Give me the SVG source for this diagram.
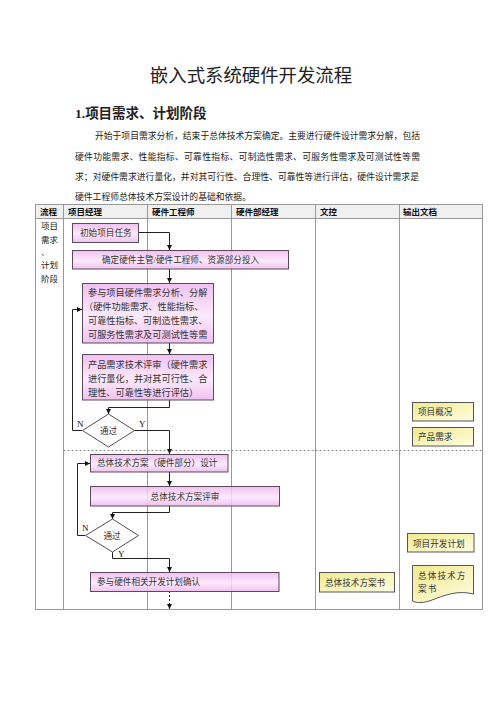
<svg xmlns="http://www.w3.org/2000/svg" width="500" height="707" viewBox="0 0 500 707">
<style>
.cn{font-family:"Liberation Serif","Noto Sans CJK SC",serif;fill:#222}
.hd{font-family:"Liberation Serif","Noto Sans CJK SC",serif;font-weight:bold;font-size:8.5px;fill:#111}
.bx{fill:url(#pink);fill-opacity:0.85;stroke:#5a4a5a;stroke-width:1}
.dc{fill:url(#yel);stroke:#555;stroke-width:1}
.dm{fill:#fff;fill-opacity:0.85;stroke:#5a4a5a;stroke-width:1}
.t{font-family:"Liberation Serif","Noto Sans CJK SC",serif;font-size:8.6px;fill:#333}
.tb{font-family:"Liberation Serif","Noto Sans CJK SC",serif;font-size:9.2px;fill:#333}
.lb{font-family:"Liberation Serif","Noto Sans CJK SC",serif;font-size:9px;fill:#111}
.ln{fill:none;stroke:#222;stroke-width:1}
.grid{stroke:#999;stroke-width:1;fill:none}
</style>
<defs>
<linearGradient id="pink" x1="0" y1="0" x2="0" y2="1">
<stop offset="0" stop-color="#eeb6ee"/>
<stop offset="0.55" stop-color="#fbe6fb"/>
<stop offset="1" stop-color="#eeb6ee"/>
</linearGradient>
<linearGradient id="yel" x1="0" y1="0" x2="1" y2="1">
<stop offset="0" stop-color="#f2e98f"/>
<stop offset="1" stop-color="#fffde2"/>
</linearGradient>
<marker id="ar" viewBox="0 0 10 10" refX="10" refY="5" markerWidth="5" markerHeight="5" markerUnits="userSpaceOnUse" orient="auto">
<path d="M0,0 L10,5 L0,10 z" fill="#111"/>
</marker>
</defs>
<rect width="500" height="707" fill="#fff"/>

<g id="heading">
<text class="cn" x="251" y="82" font-size="18.4" text-anchor="middle">嵌入式系统硬件开发流程</text>
<text class="cn" x="75" y="118" font-size="13.5" font-weight="bold">1.项目需求、计划阶段</text>
<text class="cn" x="95" y="139" font-size="8.8" textLength="325" lengthAdjust="spacing">开始于项目需求分析，结束于总体技术方案确定。主要进行硬件设计需求分解，包括</text>
<text class="cn" x="75" y="160" font-size="8.8" textLength="345" lengthAdjust="spacing">硬件功能需求、性能指标、可靠性指标、可制造性需求、可服务性需求及可测试性等需</text>
<text class="cn" x="75" y="180" font-size="8.8" textLength="344" lengthAdjust="spacing">求；对硬件需求进行量化，并对其可行性、合理性、可靠性等进行评估，硬件设计需求是</text>
<text class="cn" x="75" y="200" font-size="8.8">硬件工程师总体技术方案设计的基础和依据。</text>
</g>

<g id="table">
<rect x="35.5" y="204.5" width="447" height="14" fill="#f0f0f0"/>
<rect class="grid" x="35.5" y="204.5" width="447" height="405" stroke="#8a8a8a" stroke-width="1.3"/>
<line class="grid" x1="35.5" y1="218.5" x2="482.5" y2="218.5"/>
<line class="grid" x1="63.5" y1="204.5" x2="63.5" y2="609.5"/>
<line class="grid" x1="147.5" y1="204.5" x2="147.5" y2="609.5"/>
<line class="grid" x1="231.5" y1="204.5" x2="231.5" y2="609.5"/>
<line class="grid" x1="315.5" y1="204.5" x2="315.5" y2="609.5"/>
<line class="grid" x1="399.5" y1="204.5" x2="399.5" y2="609.5"/>
<line x1="63.5" y1="450.5" x2="482.5" y2="450.5" stroke="#888" stroke-width="1" stroke-dasharray="2,2"/>
<text class="hd" x="40" y="215">流程</text>
<text class="hd" x="68" y="215">项目经理</text>
<text class="hd" x="152" y="215">硬件工程师</text>
<text class="hd" x="236" y="215">硬件部经理</text>
<text class="hd" x="320" y="215">文控</text>
<text class="hd" x="403" y="215">输出文档</text>
<text class="cn" font-size="8.5" x="41" y="229">项目</text>
<text class="cn" font-size="8.5" x="41" y="243">需求</text>
<text class="cn" font-size="8.5" x="41" y="255">、</text>
<text class="cn" font-size="8.5" x="41" y="268">计划</text>
<text class="cn" font-size="8.5" x="41" y="282">阶段</text>
</g>

<g id="connectors">
<path class="ln" d="M139,232.5 H169.5 V250" marker-end="url(#ar)"/>
<path class="ln" d="M169.5,269 V283" marker-end="url(#ar)"/>
<path class="ln" d="M169.5,343 V354" marker-end="url(#ar)"/>
<path class="ln" d="M169.5,400 V407.5 H108.5 V414" marker-end="url(#ar)"/>
<path class="ln" d="M82,430.5 H72.5 V309.5 H82" marker-end="url(#ar)"/>
<path class="ln" d="M134,430.5 H169.5 V454" marker-end="url(#ar)"/>
<path class="ln" d="M169.5,472 V486" marker-end="url(#ar)"/>
<path class="ln" d="M169.5,506 V512.5 H112.5 V519" marker-end="url(#ar)"/>
<path class="ln" d="M85,535.5 H77.5 V463.5 H90" marker-end="url(#ar)"/>
<path class="ln" d="M112.5,552 V558.5 H169.5 V572" marker-end="url(#ar)"/>
<path class="ln" d="M169.5,591 V609" stroke-dasharray="2,2" marker-end="url(#ar)"/>
<text class="lb" x="77" y="427">N</text>
<text class="lb" x="139" y="427">Y</text>
<text class="lb" x="82" y="531">N</text>
<text class="lb" x="118" y="557">Y</text>
</g>

<g id="n-start">
<rect class="bx" x="72.5" y="223.5" width="66" height="19"/>
<text class="t" x="80" y="236">初始项目任务</text>
</g>
<g id="n-assign">
<rect class="bx" x="72.5" y="250.5" width="216" height="18.5"/>
<text class="t" x="102" y="262.5">确定硬件主管/硬件工程师、资源部分投入</text>
</g>
<g id="n-analysis">
<rect class="bx" x="82.5" y="283.5" width="131" height="59.5"/>
<text class="tb" x="88" y="296">参与项目硬件需求分析、分解</text>
<text class="tb" x="84" y="310">（硬件功能需求、性能指标、</text>
<text class="tb" x="88" y="324">可靠性指标、可制造性需求、</text>
<text class="tb" x="88" y="338">可服务性需求及可测试性等需</text>
</g>
<g id="n-review">
<rect class="bx" x="82.5" y="354.5" width="131" height="45.5"/>
<text class="tb" x="88" y="368">产品需求技术评审（硬件需求</text>
<text class="tb" x="88" y="382">进行量化，并对其可行性、合</text>
<text class="tb" x="88" y="396">理性、可靠性等进行评估）</text>
</g>
<g id="n-pass1">
<polygon class="dm" points="108.5,414 134.5,430.5 108.5,447 82.5,430.5"/>
<text class="t" x="108.5" y="434" text-anchor="middle">通过</text>
</g>
<g id="n-design">
<rect class="bx" x="90.5" y="454.5" width="137.5" height="17.5"/>
<text class="t" x="97" y="466">总体技术方案（硬件部分）设计</text>
</g>
<g id="n-design-review">
<rect class="bx" x="90.5" y="486.5" width="189" height="19.5"/>
<text class="t" x="185" y="499.5" text-anchor="middle">总体技术方案评审</text>
</g>
<g id="n-pass2">
<polygon class="dm" points="112.5,519 138.5,535.5 112.5,552 85.5,535.5"/>
<text class="t" x="112" y="539" text-anchor="middle">通过</text>
</g>
<g id="n-plan">
<rect class="bx" x="90.5" y="572.5" width="188.5" height="19"/>
<text class="t" x="97" y="585">参与硬件相关开发计划确认</text>
</g>
<g id="d-overview">
<rect class="dc" x="412.5" y="402.5" width="61" height="18.5"/>
<text class="t" x="418" y="415">项目概况</text>
</g>
<g id="d-req">
<rect class="dc" x="412.5" y="427.5" width="61" height="18.5"/>
<text class="t" x="418" y="440">产品需求</text>
</g>
<g id="d-devplan">
<rect class="dc" x="407.5" y="533.5" width="66.5" height="18.5"/>
<text class="t" x="413" y="546.5">项目开发计划</text>
</g>
<g id="d-techdoc-ctrl">
<rect class="dc" x="319.5" y="572.5" width="75" height="19.5"/>
<text class="t" x="325" y="585.5">总体技术方案书</text>
</g>
<g id="d-techdoc-out">
<path class="dc" d="M412.5,565.5 H473.5 V594 C458,590 445,595 432,600 C424,603 417,603.5 412.5,601 Z"/>
<text class="t" x="418" y="579" letter-spacing="1.1">总体技术方</text>
<text class="t" x="418" y="592" letter-spacing="1.1">案书</text>
</g>
</svg>
